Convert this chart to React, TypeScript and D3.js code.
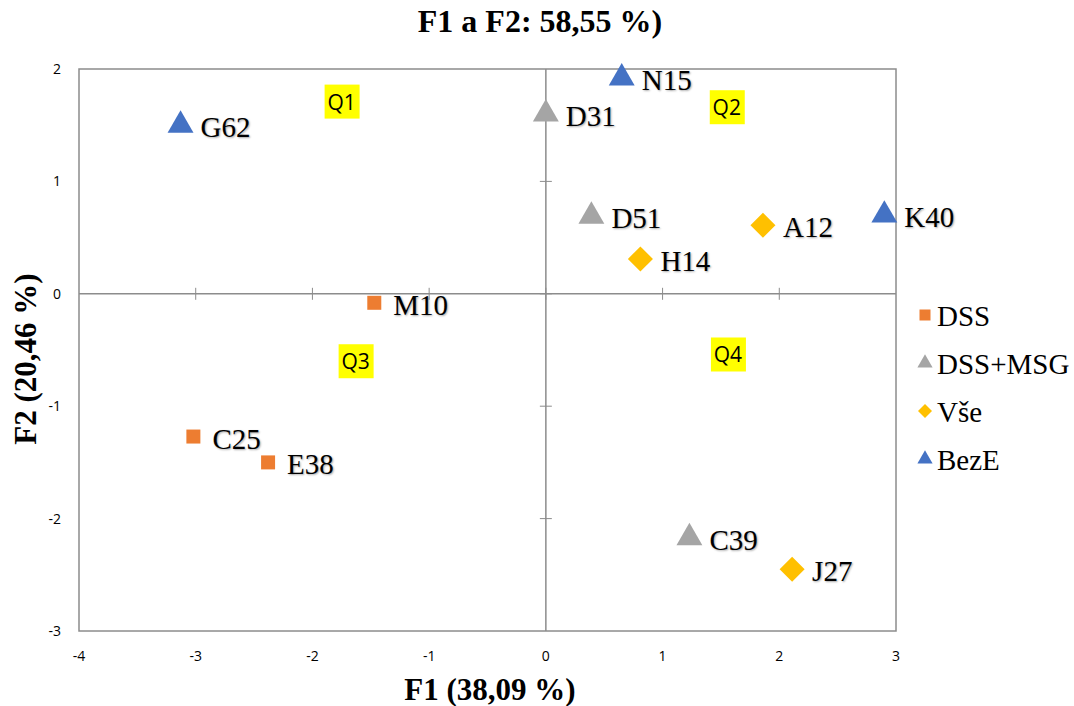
import React from 'react';
import * as d3 from 'd3';

const W = 1074;
const H = 706;

const names = ["G62", "D31", "N15", "D51", "A12", "K40", "H14", "M10", "C25", "E38", "C39", "J27"];
const f1 = [-3.13, 0.0, 0.65, 0.39, 1.86, 2.9, 0.81, -1.47, -3.02, -2.38, 1.23, 2.11];
const f2 = [1.5, 1.6, 1.92, 0.69, 0.61, 0.7, 0.31, -0.08, -1.27, -1.5, -2.17, -2.45];
const groups = ["BezE", "DSS+MSG", "BezE", "DSS+MSG", "Vše", "BezE", "Vše", "DSS", "DSS", "DSS", "DSS+MSG", "Vše"];

const legendNames = ["DSS", "DSS+MSG", "Vše", "BezE"];
const legendColors = ["#ed7d31", "#a5a5a5", "#ffc000", "#4472c4"];
const legendShapes = ["square", "triangle", "diamond", "triangle"];

const quadrants = ["Q1", "Q2", "Q3", "Q4"];
const quadX = [-1.75, 1.55, -1.63, 1.56];
const quadY = [1.71, 1.66, -0.6, -0.54];

const xTicks = [-4, -3, -2, -1, 0, 1, 2, 3];
const yTicks = [2, 1, 0, -1, -2, -3];

const serif = '"Liberation Serif", "Times New Roman", serif';
const sans = '"Open Sans", "Liberation Sans", sans-serif';

const symbolPath = (shape: string, size: number) => {
  const t = shape === 'square' ? d3.symbolSquare : shape === 'diamond' ? d3.symbolDiamond2 : d3.symbolTriangle2;
  return d3.symbol(t, size)() as string;
};

export default function App() {
  const x = d3.scaleLinear().domain([-4, 3]).range([79, 896]);
  const y = d3.scaleLinear().domain([-3, 2]).range([631, 69]);
  const grey = '#8c8c8c';

  const markerSize = (shape: string) => (shape === 'square' ? 196 : shape === 'diamond' ? 400 : 480);
  const legendSize = (shape: string) => (shape === 'square' ? 121 : shape === 'diamond' ? 125 : 165);

  return (
    <svg width={W} height={H} style={{ position: 'absolute', left: 0, top: 0, background: '#fff' }}>
      <text x={540} y={32} textAnchor="middle" fontFamily={serif} fontWeight="bold" fontSize={32}>
        F1 a F2: 58,55 %)
      </text>

      <rect x={x(-4)} y={y(2)} width={x(3) - x(-4)} height={y(-3) - y(2)} fill="none" stroke={grey} strokeWidth={1.5} />
      <line x1={x(0)} x2={x(0)} y1={y(2)} y2={y(-3)} stroke={grey} strokeWidth={1.5} />
      <line x1={x(-4)} x2={x(3)} y1={y(0)} y2={y(0)} stroke={grey} strokeWidth={1.5} />

      {xTicks.slice(1, -1).map((t) => (
        <line key={'xt' + t} x1={x(t)} x2={x(t)} y1={y(0) - 6} y2={y(0) + 6} stroke={grey} strokeWidth={1} />
      ))}
      {yTicks.slice(1, -1).map((t) => (
        <line key={'yt' + t} x1={x(0) - 6} x2={x(0) + 6} y1={y(t)} y2={y(t)} stroke={grey} strokeWidth={1} />
      ))}

      {xTicks.map((t) => (
        <text key={'xl' + t} x={x(t)} y={661} textAnchor="middle" fontFamily={sans} fontSize={14}>
          {t}
        </text>
      ))}
      {yTicks.map((t) => (
        <text key={'yl' + t} x={61} y={y(t) + 5} textAnchor="end" fontFamily={sans} fontSize={14}>
          {t}
        </text>
      ))}

      <text x={490} y={700} textAnchor="middle" fontFamily={serif} fontWeight="bold" fontSize={31}>
        F1 (38,09 %)
      </text>
      <text
        transform={`translate(36, 359) rotate(-90)`}
        textAnchor="middle"
        fontFamily={serif}
        fontWeight="bold"
        fontSize={31}
      >
        F2 (20,46 %)
      </text>

      {quadrants.map((q, i) => (
        <g key={q} transform={`translate(${x(quadX[i])}, ${y(quadY[i])})`}>
          <rect x={-17} y={-17} width={35} height={34} fill="#ffff00" />
          <text x={0} y={8} textAnchor="middle" fontFamily={sans} fontSize={21}>
            {q}
          </text>
        </g>
      ))}

      {names.map((n, i) => {
        const gi = legendNames.indexOf(groups[i]);
        const shape = legendShapes[gi];
        const cx = x(f1[i]);
        const cy = y(f2[i]);
        return (
          <g key={n}>
            <path
              d={symbolPath(shape, markerSize(shape))}
              transform={`translate(${cx}, ${cy})`}
              fill={legendColors[gi]}
            />
            <text
              x={cx + (shape === 'square' ? 19 : 20)}
              y={cy + 12}
              fontFamily={serif}
              fontSize={29}
              style={{ textShadow: '1px 1px 2px rgba(0,0,0,0.35)' }}
            >
              {n}
            </text>
          </g>
        );
      })}

      {legendNames.map((n, i) => {
        const ly = 315 + i * 48;
        return (
          <g key={'lg' + n}>
            <path
              d={symbolPath(legendShapes[i], legendSize(legendShapes[i]))}
              transform={`translate(925, ${ly})`}
              fill={legendColors[i]}
            />
            <text x={937} y={ly + 11} fontFamily={serif} fontSize={29}>
              {n}
            </text>
          </g>
        );
      })}
    </svg>
  );
}
